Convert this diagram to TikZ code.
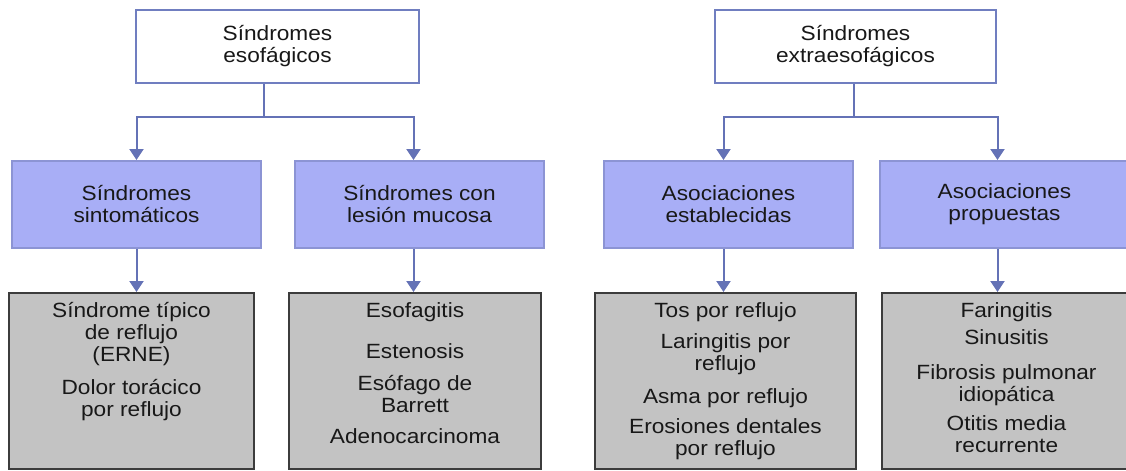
\documentclass[tikz,border=0pt]{standalone}
\usepackage{fontspec}
\setmainfont{Liberation Sans}[FakeStretch=1.1]
\usetikzlibrary{arrows.meta,positioning}
\definecolor{toplinecol}{RGB}{112,126,192}
\definecolor{linkcol}{RGB}{100,114,182}
\definecolor{midfillcol}{RGB}{168,174,246}
\definecolor{midlinecol}{RGB}{140,148,212}
\definecolor{lowfillcol}{RGB}{195,195,195}
\definecolor{lowlinecol}{RGB}{60,60,60}
\definecolor{textcol}{RGB}{24,24,24}
\tikzset{
  topbox/.style={draw=toplinecol, line width=1pt, fill=white, minimum width=141.5pt, minimum height=36.5pt, inner sep=0pt, align=center},
  midbox/.style={draw=midlinecol, line width=1pt, fill=midfillcol, minimum width=124.5pt, minimum height=43.5pt, inner sep=0pt, align=center},
  lowbox/.style={draw=lowlinecol, line width=1pt, fill=lowfillcol, minimum height=88pt, inner sep=0pt},
  lowtext/.style={inner sep=0pt, align=center},
  link/.style={draw=linkcol, line width=1pt},
  arrow/.style={link, -{Triangle[width=7pt,length=5.5pt]}},
}

\begin{document}
\begin{tikzpicture}[x=0.5pt,y=-0.5pt,font=\fontsize{10.3}{11}\selectfont,text=textcol]
    \useasboundingbox (0,0) rectangle (1126,471);
    \clip (0,0) rectangle (1126,471);
    % top level
    \node[topbox] (t1) at (277.5,46.5) {Síndromes\\esofágicos};
    \node[topbox, minimum width=140.5pt] (t2) at (855.5,46.5) {Síndromes\\extraesofágicos};
    % middle level
    \node[midbox] (m1) at (136.5,204.5) {Síndromes\\sintomáticos};
    \node[midbox] (m2) at (419.5,204.5) {Síndromes con\\lesión mucosa};
    \node[midbox] (m3) at (728.5,204.5) {Asociaciones\\establecidas};
    \node[midbox] (m4) at (1004.5,204.5) {Asociaciones\\propuestas};
    % bottom level
    \node[lowbox, minimum width=122.5pt] (b1) at (131.5,381) {};
    \node[lowbox, minimum width=126pt] (b2) at (415,381) {};
    \node[lowbox, minimum width=130.5pt] (b3) at (725.5,381) {};
    \node[lowbox, minimum width=124.5pt] (b4) at (1006.5,381) {};
    \node[lowtext, below=4.8pt of b1.north] (l1) {\strut Síndrome típico\\de reflujo\\(ERNE)\\[5.5pt]Dolor torácico\\por reflujo};
    \node[lowtext, below=4.8pt of b2.north] (l2) {\strut Esofagitis\\[9.5pt]Estenosis\\[5pt]Esófago de\\Barrett\\[4.5pt]Adenocarcinoma};
    \node[lowtext, below=4.8pt of b3.north] (l3) {\strut Tos por reflujo\\[4.5pt]Laringitis por\\reflujo\\[5.5pt]Asma por reflujo\\[4pt]Erosiones dentales\\por reflujo};
    \node[lowtext, below=4.8pt of b4.north] (l4) {\strut Faringitis\\[2.5pt]Sinusitis\\[6.5pt]Fibrosis pulmonar\\idiopática\\[3.5pt]Otitis media\\recurrente};
    % connectors
    \coordinate (s1) at (264,117);
    \coordinate (s2) at (854,117);
    \coordinate (c1) at (136.5,0);
    \coordinate (c2) at (413.5,0);
    \coordinate (c3) at (723.5,0);
    \coordinate (c4) at (997.5,0);
    \draw[link] (t1.south -| s1) -- (s1);
    \draw[link] (t2.south -| s2) -- (s2);
    \draw[arrow] (s1) -| (c1 |- m1.north);
    \draw[arrow] (s1) -| (c2 |- m2.north);
    \draw[arrow] (s2) -| (c3 |- m3.north);
    \draw[arrow] (s2) -| (c4 |- m4.north);
    \draw[arrow] (c1 |- m1.south) -- (c1 |- b1.north);
    \draw[arrow] (c2 |- m2.south) -- (c2 |- b2.north);
    \draw[arrow] (c3 |- m3.south) -- (c3 |- b3.north);
    \draw[arrow] (c4 |- m4.south) -- (c4 |- b4.north);
\end{tikzpicture}
\end{document}
